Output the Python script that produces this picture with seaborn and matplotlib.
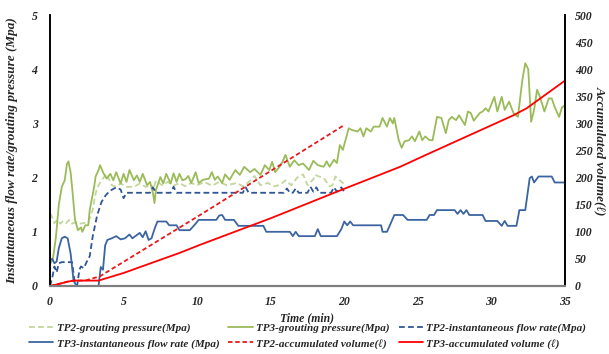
import matplotlib
matplotlib.use("Agg")
import matplotlib.pyplot as plt
import seaborn as sns
import pandas as pd

# ---------------- data ----------------
tp3_p_t = [0.0, 0.2, 0.4, 0.6, 0.8, 1.0, 1.15, 1.25, 1.4, 1.5, 1.7, 1.9, 2.1, 2.2, 2.4, 2.6, 2.7, 3.0, 3.1, 3.3,
           3.4, 3.6, 3.85, 4.1, 4.3, 4.5, 4.8, 5.0, 5.2, 5.4, 5.7, 5.9, 6.1, 6.3, 6.6, 6.8, 7.0, 7.1, 7.2, 7.5,
           7.7, 7.9, 8.2, 8.4, 8.6, 8.8, 9.0, 9.2, 9.4, 9.6, 9.9, 10.1, 10.4, 10.8, 11.0, 11.2, 11.4, 11.7, 11.9, 12.2,
           12.6, 12.9, 13.2, 13.6, 13.9, 14.3, 14.6, 14.9, 15.1, 15.3, 15.6, 15.8, 16.0, 16.3, 16.6, 16.9, 17.2, 17.6, 17.9, 18.2,
           18.6, 18.8, 19.0, 19.3, 19.5, 19.7, 19.9, 20.3, 20.5, 20.9, 21.1, 21.3, 21.5, 21.8, 22.0, 22.4, 22.6, 22.9, 23.1, 23.3,
           23.4, 23.7, 23.9, 24.1, 24.4, 24.6, 24.8, 25.1, 25.3, 25.5, 25.8, 26.0, 26.3, 26.6, 26.9, 27.1, 27.3, 27.6, 27.8, 28.2,
           28.4, 28.6, 28.8, 29.2, 29.4, 29.6, 29.8, 30.2, 30.4, 30.7, 30.9, 31.2, 31.5, 31.8, 32.1, 32.3, 32.5, 32.7, 32.9, 33.1,
           33.3, 33.6, 33.9, 34.1, 34.3, 34.6, 34.8, 35.0]
tp3_p_v = [0.40, 0.50, 0.90, 1.50, 1.83, 1.95, 2.25, 2.30, 2.10, 1.83, 1.22, 1.03, 1.08, 1.00, 1.12, 1.12, 1.40, 1.83, 2.02, 2.14,
           2.23, 2.10, 1.98, 2.07, 1.95, 2.10, 1.89, 2.07, 1.92, 2.14, 1.95, 2.04, 1.92, 2.07, 1.86, 1.92, 1.71, 1.53, 1.77, 2.01,
           1.89, 2.07, 1.89, 2.08, 1.92, 2.07, 1.95, 1.97, 2.03, 1.90, 2.10, 1.90, 1.96, 1.98, 2.10, 1.96, 2.02, 1.90, 2.06, 1.96,
           2.14, 2.05, 2.20, 2.10, 2.16, 2.05, 2.23, 2.14, 2.29, 2.10, 2.20, 2.29, 2.42, 2.20, 2.32, 2.23, 2.26, 2.14, 2.31, 2.23,
           2.20, 2.30, 2.20, 2.33, 2.27, 2.60, 2.51, 2.91, 2.88, 2.85, 2.91, 2.76, 2.91, 2.85, 2.94, 2.94, 3.10, 2.94, 3.10, 3.00,
           3.10, 2.69, 2.55, 2.67, 2.69, 2.76, 2.67, 2.85, 2.69, 2.76, 2.69, 2.69, 3.12, 3.10, 2.82, 3.06, 3.12, 3.06, 3.15, 2.97,
           3.22, 3.19, 3.05, 3.19, 3.22, 3.28, 3.22, 3.49, 3.22, 3.49, 3.25, 3.40, 3.19, 3.12, 3.80, 4.11, 4.00, 3.03, 3.25, 3.62,
           3.49, 3.22, 3.46, 3.46, 3.30, 3.12, 3.30, 3.33]

tp2_p_t = [0.0, 0.1, 0.3, 0.5, 0.7, 0.9, 1.1, 1.3, 1.5, 1.8, 2.0, 2.3, 2.6, 2.9, 3.1, 3.3, 3.5, 3.85, 4.2, 4.5,
           4.8, 5.2, 5.7, 6.1, 6.5, 6.9, 7.0, 7.2, 7.6, 8.0, 8.4, 8.8, 9.2, 9.6, 10.0, 10.5, 11.0, 11.5, 12.0, 12.7,
           13.1, 13.5, 13.9, 14.3, 14.8, 15.2, 15.6, 16.0, 16.4, 16.8, 17.2, 17.5, 17.9, 18.0, 18.3, 18.6, 19.0, 19.2, 19.4, 19.6,
           19.9, 20.0]
tp2_p_v = [1.34, 1.30, 1.16, 1.22, 1.15, 1.20, 1.16, 1.22, 1.15, 1.18, 1.15, 1.16, 1.18, 1.40, 1.71, 1.86, 1.95, 2.07, 1.86, 1.83,
           1.89, 1.83, 1.83, 1.89, 1.83, 1.86, 1.77, 1.95, 1.86, 1.92, 1.85, 1.90, 1.84, 1.90, 1.86, 1.92, 1.85, 1.92, 1.86, 1.90,
           1.84, 1.92, 2.03, 1.86, 1.90, 1.84, 1.86, 1.95, 1.86, 2.00, 2.06, 1.86, 1.97, 2.05, 2.02, 1.99, 1.84, 1.86, 2.02, 1.97,
           1.90, 1.90]

tp2_f_t = [0.0, 0.15, 0.3, 0.45, 0.6, 0.8, 1.2, 1.5, 1.7, 1.85, 2.0, 2.1, 2.3, 2.5, 2.7, 2.9, 3.2, 3.5, 3.8, 4.1,
           4.5, 4.8, 5.0, 5.2, 6.8, 7.0, 7.2, 8.2, 8.4, 8.6, 13.1, 13.3, 13.5, 15.9, 16.1, 16.3, 16.5, 16.7, 16.9, 17.5,
           17.7, 17.9, 18.1, 18.3, 19.1, 19.3, 19.5, 19.8, 20.0]
tp2_f_v = [0.00, 0.15, 0.36, 0.25, 0.42, 0.44, 0.44, 0.44, 0.02, 0.02, 0.30, 0.36, 0.33, 0.45, 0.55, 0.91, 1.30, 1.55, 1.68, 1.76,
           1.82, 1.78, 1.62, 1.72, 1.72, 1.82, 1.72, 1.72, 1.83, 1.72, 1.72, 1.82, 1.72, 1.72, 1.80, 1.72, 1.72, 1.80, 1.72, 1.72,
           1.83, 1.74, 1.82, 1.72, 1.72, 1.82, 1.74, 1.82, 1.74]

tp3_f_t = [0.0, 0.15, 0.3, 0.45, 0.6, 0.8, 1.0, 1.2, 1.4, 1.6, 1.8, 3.3, 3.45, 3.6, 3.75, 3.9, 4.2, 4.5, 4.8, 5.1,
           5.4, 5.6, 5.9, 6.1, 6.3, 6.5, 6.7, 6.9, 7.1, 7.3, 7.9, 8.1, 8.6, 8.8, 9.5, 9.9, 10.1, 11.3, 11.5, 11.7,
           11.9, 12.5, 12.8, 14.5, 14.7, 16.3, 16.5, 16.7, 16.9, 18.0, 18.2, 18.4, 19.5, 19.8, 20.0, 20.2, 20.4, 20.6, 22.5, 22.6,
           22.9, 23.1, 23.4, 24.0, 24.3, 25.6, 25.8, 26.1, 26.3, 27.5, 27.7, 27.9, 28.1, 28.3, 28.5, 29.4, 29.6, 30.4, 30.7, 30.9,
           31.1, 31.7, 31.9, 32.3, 32.6, 32.75, 32.9, 33.2, 34.1, 34.3, 35.0]
tp3_f_v = [0.48, 0.50, 0.42, 0.45, 0.70, 0.88, 0.91, 0.88, 0.60, 0.10, 0.00, 0.00, 0.35, 0.30, 0.75, 0.85, 0.88, 0.92, 0.86, 0.88,
           0.95, 0.88, 0.94, 0.98, 0.90, 1.01, 0.85, 0.88, 1.05, 1.19, 1.19, 1.12, 1.12, 1.03, 1.03, 1.15, 1.22, 1.22, 1.30, 1.31,
           1.22, 1.22, 1.11, 1.11, 1.00, 1.00, 0.92, 1.00, 0.92, 0.92, 1.05, 0.92, 0.92, 1.05, 1.19, 1.12, 1.19, 1.12, 1.12, 1.00,
           1.00, 1.12, 1.31, 1.31, 1.22, 1.22, 1.31, 1.31, 1.40, 1.40, 1.33, 1.40, 1.33, 1.40, 1.31, 1.31, 1.20, 1.20, 1.11, 1.20,
           1.11, 1.11, 1.40, 1.40, 1.99, 2.02, 1.91, 2.02, 2.02, 1.91, 1.91]

tp2_v_t = [0.0, 0.5, 1.2, 1.6, 2.4, 3.4, 10.2, 20.0]
tp2_v_v = [0, 3, 8, 10, 10, 18, 131, 297]

tp3_v_t = [0.0, 0.5, 1.2, 1.6, 3.3, 5.0, 8.8, 10.2, 15.0, 19.5, 23.8, 25.8, 31.5, 32.4, 35.0]
tp3_v_v = [0, 3, 8, 10, 10, 24, 61, 76, 125, 174, 220, 245, 315, 328, 379]

labels = ["TP2-grouting pressure(Mpa)", "TP3-grouting pressure(Mpa)", "TP2-instantaneous flow rate(Mpa)",
          "TP3-instantaneous flow rate (Mpa)", "TP2-accumulated volume(\u2113)", "TP3-accumulated volume (\u2113)"]
x_ticks = [0, 5, 10, 15, 20, 25, 30, 35]
left_ticks = [0, 1, 2, 3, 4, 5]
right_ticks = [0, 50, 100, 150, 200, 250, 300, 350, 400, 450, 500]

# ---------------- style ----------------
sns.set_style("white")
plt.rcParams["font.family"] = ["Liberation Serif", "DejaVu Serif"]
plt.rcParams["font.weight"] = "bold"
plt.rcParams["font.style"] = "italic"

fig = plt.figure(figsize=(6.09, 3.54), dpi=100)
ax = fig.add_axes([50 / 609, 1 - 286 / 354, 515 / 609, 271 / 354])
ax2 = ax.twinx()

c_green = "#9BBB59"
c_lgreen = "#C3D69B"
c_dblue = "#2F5597"
c_blue = "#3B64A0"
c_red = "#FF0000"
c_red2 = "#E8191B"
dash = (0, (3.2, 1.8))
lw = 1.3

def draw(axis, t, v, color, ls, lab):
    df = pd.DataFrame({"t": t, "v": v})
    sns.lineplot(data=df, x="t", y="v", ax=axis, color=color, linestyle=ls, linewidth=lw,
                 sort=False, estimator=None, label=lab, legend=False)
    return axis.lines[-1]

h_tp2p = draw(ax, tp2_p_t, tp2_p_v, c_lgreen, dash, labels[0])
h_tp3p = draw(ax, tp3_p_t, tp3_p_v, c_green, "-", labels[1])
h_tp2f = draw(ax, tp2_f_t, tp2_f_v, c_dblue, dash, labels[2])
h_tp3f = draw(ax, tp3_f_t, tp3_f_v, c_blue, "-", labels[3])
h_tp2v = draw(ax2, tp2_v_t, tp2_v_v, c_red2, (0, (2.5, 1.5)), labels[4])
h_tp3v = draw(ax2, tp3_v_t, tp3_v_v, c_red, "-", labels[5])

tick_font = dict(family=["Liberation Serif", "DejaVu Serif"], weight="bold", style="italic", size=8.5)

ax.set_xlim(0, 35)
ax.set_ylim(0, 5)
ax2.set_ylim(0, 500)
ax.set_xticks(x_ticks)
ax.set_xticklabels([str(v) for v in x_ticks], fontdict=tick_font)
ax.set_yticks(left_ticks)
ax.set_yticklabels([str(v) for v in left_ticks], fontdict=tick_font)
ax2.set_yticks(right_ticks)
ax2.set_yticklabels([str(v) for v in right_ticks], fontdict=tick_font)
ax.tick_params(axis="both", length=0)
ax.tick_params(axis="y", pad=9)
ax.tick_params(axis="x", pad=7)
ax2.tick_params(axis="y", length=0, pad=7)

ax.set_xlabel("Time (min)", fontdict=dict(tick_font, size=8.5), labelpad=3)
ax.set_ylabel("Instantaneous flow rate/grouting pressure (Mpa)", fontdict=dict(tick_font, size=9.5), labelpad=10)
ax2.set_ylabel("Accumulated volume(\u2113)", fontdict=dict(tick_font, size=9.5), rotation=270, labelpad=10)

for a in (ax, ax2):
    a.spines["top"].set_visible(False)
    a.spines["left"].set_color("black")
    a.spines["right"].set_color("black")
    a.spines["bottom"].set_color("#7F7F7F")
    a.spines["left"].set_linewidth(1.2)
    a.spines["right"].set_linewidth(1.2)
    a.spines["bottom"].set_linewidth(1.5)
    a.grid(False)

handles = [h_tp2p, h_tp3f, h_tp3p, h_tp2v, h_tp2f, h_tp3v]
hl_labels = [labels[0], labels[3], labels[1], labels[4], labels[2], labels[5]]
fig.legend(handles, hl_labels, ncol=3, loc="upper center", bbox_to_anchor=(0.505, 1 - 323 / 354),
           frameon=False, prop=dict(family=["Liberation Serif", "DejaVu Serif"], weight="bold",
                                    style="italic", size=8),
           handlelength=2.2, handletextpad=0.3, columnspacing=0.8, labelspacing=0.5,
           borderaxespad=0, borderpad=0)

fig.savefig("out.png", dpi=100)
